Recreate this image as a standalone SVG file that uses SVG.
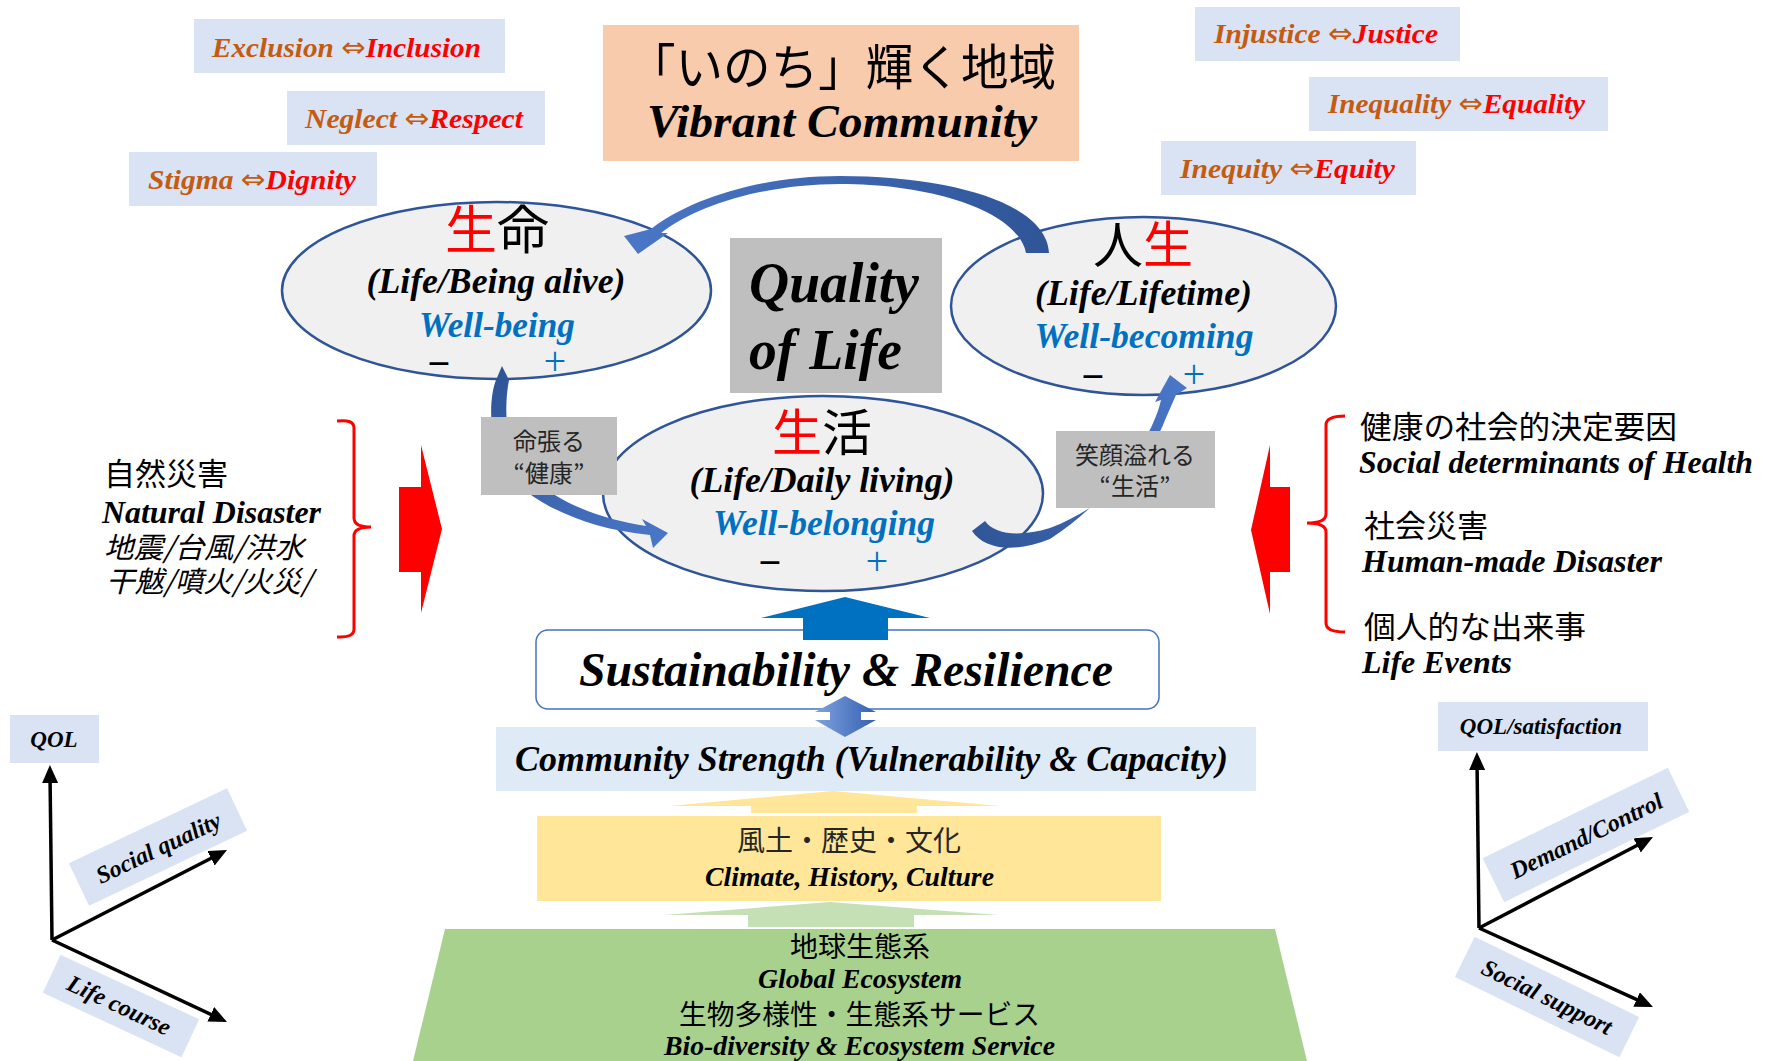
<svg xmlns="http://www.w3.org/2000/svg" width="1774" height="1061" viewBox="0 0 1774 1061">
<style>
.en{font-family:"Liberation Serif","DejaVu Serif",serif;font-weight:bold;font-style:italic}
.jp{font-family:"Noto Sans CJK JP","Noto Sans",sans-serif}
.neg{fill:#c55a11}
.pos{fill:#ff0000}
.arr{font-family:"DejaVu Sans",sans-serif;font-style:normal;font-weight:normal;fill:#c55a11}
.lbl{fill:#dae3f3}
.ell{fill:#f0f0f0;stroke:#2f5597;stroke-width:2.5}
.gray{fill:#bfbfbf}
.blue{fill:#0070c0}
.axis{stroke:#000;stroke-width:3.5;fill:none;marker-end:url(#ah)}
.brk{stroke:#ff0000;stroke-width:3;fill:none}
.minus{font-family:"Noto Sans","DejaVu Sans",sans-serif;font-size:40px;fill:#000;text-anchor:middle}
.plus{font-family:"Noto Sans","DejaVu Sans",sans-serif;font-size:40px;font-weight:300;fill:#0070c0;text-anchor:middle}
</style>
<defs>
<marker id="ah" markerUnits="userSpaceOnUse" markerWidth="20" markerHeight="18" refX="10" refY="8" orient="auto">
<path d="M0,0 L18,8 L0,16 z" fill="#000"/>
</marker>
<linearGradient id="arcg" gradientUnits="userSpaceOnUse" x1="620" y1="0" x2="1050" y2="0">
<stop offset="0" stop-color="#4a77c8"/><stop offset="1" stop-color="#2f5597"/>
</linearGradient>
<linearGradient id="arcr" gradientUnits="userSpaceOnUse" x1="970" y1="540" x2="1185" y2="380">
<stop offset="0" stop-color="#2f5597"/><stop offset="1" stop-color="#4a77c8"/>
</linearGradient>
<linearGradient id="arcl" gradientUnits="userSpaceOnUse" x1="500" y1="370" x2="668" y2="540">
<stop offset="0" stop-color="#2f5597"/><stop offset="1" stop-color="#4a77c8"/>
</linearGradient>
<linearGradient id="dbl" x1="0" y1="0" x2="1" y2="0">
<stop offset="0" stop-color="#7fa3e0"/><stop offset="1" stop-color="#3560b0"/>
</linearGradient>
</defs>

<!-- top-left value boxes -->
<g id="exclusion">
<rect class="lbl" x="194" y="19" width="311" height="54"/>
<text class="en" x="212" y="57" font-size="28" textLength="269" lengthAdjust="spacingAndGlyphs"><tspan class="neg">Exclusion </tspan><tspan class="arr">⇔</tspan><tspan class="pos">Inclusion</tspan></text>
</g>
<g id="neglect">
<rect class="lbl" x="287" y="91" width="258" height="54"/>
<text class="en" x="305" y="128" font-size="28" textLength="218" lengthAdjust="spacingAndGlyphs"><tspan class="neg">Neglect </tspan><tspan class="arr">⇔</tspan><tspan class="pos">Respect</tspan></text>
</g>
<g id="stigma">
<rect class="lbl" x="129" y="152" width="248" height="54"/>
<text class="en" x="148" y="189" font-size="28" textLength="208" lengthAdjust="spacingAndGlyphs"><tspan class="neg">Stigma </tspan><tspan class="arr">⇔</tspan><tspan class="pos">Dignity</tspan></text>
</g>

<!-- top-right value boxes -->
<g id="injustice">
<rect class="lbl" x="1195" y="7" width="265" height="54"/>
<text class="en" x="1214" y="43" font-size="28" textLength="224" lengthAdjust="spacingAndGlyphs"><tspan class="neg">Injustice </tspan><tspan class="arr">⇔</tspan><tspan class="pos">Justice</tspan></text>
</g>
<g id="inequality">
<rect class="lbl" x="1309" y="77" width="299" height="54"/>
<text class="en" x="1328" y="113" font-size="28" textLength="257" lengthAdjust="spacingAndGlyphs"><tspan class="neg">Inequality </tspan><tspan class="arr">⇔</tspan><tspan class="pos">Equality</tspan></text>
</g>
<g id="inequity">
<rect class="lbl" x="1161" y="141" width="255" height="54"/>
<text class="en" x="1180" y="178" font-size="28" textLength="215" lengthAdjust="spacingAndGlyphs"><tspan class="neg">Inequity </tspan><tspan class="arr">⇔</tspan><tspan class="pos">Equity</tspan></text>
</g>

<!-- title -->
<g id="vibrant">
<rect x="603" y="25" width="476" height="136" fill="#f8cbad"/>
<text class="jp" x="628" y="85" font-size="49" textLength="428" lengthAdjust="spacingAndGlyphs" fill="#000">「いのち」輝く地域</text>
<text class="en" x="647" y="137" font-size="46" textLength="390" lengthAdjust="spacingAndGlyphs" fill="#000">Vibrant Community</text>
</g>

<!-- ellipses -->
<g id="seimei">
<ellipse class="ell" cx="496.5" cy="290.5" rx="214.5" ry="88.5"/>
<text class="jp" x="497" y="249" font-size="52" text-anchor="middle"><tspan class="pos">生</tspan><tspan fill="#000">命</tspan></text>
<text class="en" x="496" y="293" font-size="36" text-anchor="middle" textLength="259" lengthAdjust="spacingAndGlyphs" fill="#000">(Life/Being alive)</text>
<text class="en blue" x="497" y="337" font-size="35" text-anchor="middle" textLength="156" lengthAdjust="spacingAndGlyphs">Well-being</text>
<text class="minus" x="439" y="378">−</text>
<text class="plus" x="555" y="376">+</text>
</g>

<g id="jinsei">
<ellipse class="ell" cx="1143.5" cy="306" rx="192.5" ry="89"/>
<text class="jp" x="1143" y="263" font-size="50" text-anchor="middle"><tspan fill="#000">人</tspan><tspan class="pos">生</tspan></text>
<text class="en" x="1143.5" y="305" font-size="36" text-anchor="middle" textLength="217" lengthAdjust="spacingAndGlyphs" fill="#000">(Life/Lifetime)</text>
<text class="en blue" x="1144" y="348" font-size="35" text-anchor="middle" textLength="219" lengthAdjust="spacingAndGlyphs">Well-becoming</text>
<text class="minus" x="1093" y="391">−</text>
<text class="plus" x="1194" y="389">+</text>
</g>

<g id="seikatsu">
<ellipse class="ell" cx="823" cy="493.5" rx="220" ry="97.5"/>
<text class="jp" x="822" y="451" font-size="50" text-anchor="middle"><tspan class="pos">生</tspan><tspan fill="#000">活</tspan></text>
<text class="en" x="822" y="492" font-size="36" text-anchor="middle" textLength="265" lengthAdjust="spacingAndGlyphs" fill="#000">(Life/Daily living)</text>
<text class="en blue" x="824" y="535" font-size="35" text-anchor="middle" textLength="222" lengthAdjust="spacingAndGlyphs">Well-belonging</text>
<text class="minus" x="770" y="577">−</text>
<text class="plus" x="877" y="576">+</text>
</g>

<g id="qol-center">
<rect class="gray" x="730" y="238" width="212" height="155"/>
<text class="en" x="749" y="302" font-size="56" textLength="170" lengthAdjust="spacingAndGlyphs" fill="#000">Quality</text>
<text class="en" x="749" y="369" font-size="56" textLength="153" lengthAdjust="spacingAndGlyphs" fill="#000">of Life</text>
</g>

<!-- connectors -->
<g id="connectors">
<path d="M1049,253 C1047,203 950,176 840,176 C760,176 690,199 651,229 L624,236 L638,254 L668,233 L661,233 C700,203 770,184 840,184 C935,184 1018,212 1026,253 Z" fill="url(#arcg)"/>
<path d="M502,366 L509,380 C505,400 505,430 512,450 C530,488 580,516 646,526 L642,519 L668,533 L653,548 L650,535 C578,528 522,498 501,465 C490,440 488,400 496,380 Z" fill="url(#arcl)"/>
<path d="M972,531 L985,521 C995,535 1020,537 1050,528 C1110,505 1150,460 1165,420 L1176,395 L1187,388 L1170,375 L1155,402 L1161,400 C1152,440 1110,500 1050,539 C1015,553 985,550 972,531 Z" fill="url(#arcr)"/>
<polygon points="399,487 421,487 421,445 442,529 421,613 421,572 399,572" fill="#ff0000"/>
<polygon points="1290,487 1270,487 1270,445 1251,530 1270,614 1270,572 1290,572" fill="#ff0000"/>
<path class="axis" d="M52,940 L50,773"/>
<path class="axis" d="M52,940 L219.9,853.7"/>
<path class="axis" d="M52,940 L219.8,1018.6"/>
<path class="axis" d="M1479,928 L1477,760"/>
<path class="axis" d="M1479,928 L1645.9,840.7"/>
<path class="axis" d="M1479,928 L1645.7,1003.7"/>
</g>

<g id="health-box">
<rect class="gray" x="481" y="417" width="136" height="78"/>
<text class="jp" x="549" y="450" font-size="24" text-anchor="middle" fill="#262626">命張る</text>
<text class="jp" x="549" y="482" font-size="24" text-anchor="middle" fill="#262626">“健康”</text>
</g>
<g id="living-box">
<rect class="gray" x="1056" y="431" width="159" height="77"/>
<text class="jp" x="1135" y="464" font-size="24" text-anchor="middle" fill="#262626">笑顔溢れる</text>
<text class="jp" x="1135" y="495" font-size="24" text-anchor="middle" fill="#262626">“生活”</text>
</g>

<!-- left disasters -->
<g id="natural-disaster">
<text class="jp" x="104" y="485" font-size="31" fill="#000">自然災害</text>
<text class="en" x="102" y="523" font-size="31" textLength="219" lengthAdjust="spacingAndGlyphs" fill="#000">Natural Disaster</text>
<text class="jp" x="104" y="558" font-size="29" font-style="italic" textLength="200" lengthAdjust="spacingAndGlyphs" fill="#000">地震/台風/洪水</text>
<text class="jp" x="106" y="592" font-size="29" font-style="italic" textLength="206" lengthAdjust="spacingAndGlyphs" fill="#000">干魃/噴火/火災/</text>
<path class="brk" d="M337,421 Q354,419 354,428 L354,518 Q354,527 371,527 Q354,527 354,536 L354,629 Q354,638 337,637"/>
</g>

<!-- right determinants -->
<g id="social-determinants">
<text class="jp" x="1360" y="438" font-size="31" textLength="317" lengthAdjust="spacingAndGlyphs" fill="#000">健康の社会的決定要因</text>
<text class="en" x="1359" y="473" font-size="31" textLength="394" lengthAdjust="spacingAndGlyphs" fill="#000">Social determinants of Health</text>
<text class="jp" x="1364" y="537" font-size="31" fill="#000">社会災害</text>
<text class="en" x="1362" y="572" font-size="31" textLength="300" lengthAdjust="spacingAndGlyphs" fill="#000">Human-made Disaster</text>
<text class="jp" x="1364" y="638" font-size="31" textLength="222" lengthAdjust="spacingAndGlyphs" fill="#000">個人的な出来事</text>
<text class="en" x="1362" y="673" font-size="31" textLength="150" lengthAdjust="spacingAndGlyphs" fill="#000">Life Events</text>
<path class="brk" d="M1345,416 Q1326,416 1326,425 L1326,514 Q1326,523 1307,523 Q1326,523 1326,532 L1326,623 Q1326,632 1345,632"/>
</g>

<!-- central stack -->
<g id="sustainability">
<rect x="536" y="630" width="623" height="79" rx="12" ry="12" fill="#fff" stroke="#4472c4" stroke-width="1.5"/>
<text class="en" x="579" y="686" font-size="48" textLength="534" lengthAdjust="spacingAndGlyphs" fill="#000">Sustainability &amp; Resilience</text>
</g>
<g id="up-arrow">
<polygon points="845,597 930,618 888,618 888,640 803,640 803,618 761,618" fill="#0070c0"/>
</g>
<g id="community">
<rect x="496" y="727" width="760" height="64" fill="#deebf7"/>
<text class="en" x="515" y="771" font-size="36" textLength="713" lengthAdjust="spacingAndGlyphs" fill="#000">Community Strength (Vulnerability &amp; Capacity)</text>
</g>
<g id="double-arrow">
<polygon points="845,696 876,712 861,712 861,720 876,720 845,737 815,720 830,720 830,712 815,712" fill="url(#dbl)"/>
</g>
<g id="yellow-arrow">
<polygon points="833,791 1000,806 917,806 917,813 751,813 751,806 669,806" fill="#ffe699"/>
</g>
<g id="culture">
<rect x="537" y="816" width="624" height="85" fill="#ffe699"/>
<text class="jp" x="849" y="851" font-size="28" text-anchor="middle" fill="#262626">風土・歴史・文化</text>
<text class="en" x="705" y="886" font-size="28" textLength="289" lengthAdjust="spacingAndGlyphs" fill="#000">Climate, History, Culture</text>
</g>
<g id="green-arrow">
<polygon points="830,902 998,915 914,915 914,927 748,927 748,915 664,915" fill="#c5e0b4"/>
</g>
<g id="ecosystem">
<polygon points="445,929 1275,929 1307,1061 413,1061" fill="#a9d18e"/>
<text class="jp" x="860" y="957" font-size="28" text-anchor="middle" fill="#000">地球生態系</text>
<text class="en" x="758" y="988" font-size="28" textLength="204" lengthAdjust="spacingAndGlyphs" fill="#000">Global Ecosystem</text>
<text class="jp" x="679" y="1025" font-size="28" textLength="361" lengthAdjust="spacingAndGlyphs" fill="#000">生物多様性・生態系サービス</text>
<text class="en" x="664" y="1055" font-size="28" textLength="391" lengthAdjust="spacingAndGlyphs" fill="#000">Bio-diversity &amp; Ecosystem Service</text>
</g>

<!-- left axes labels -->
<g id="qol-left">
<rect class="lbl" x="10" y="715" width="89" height="48"/>
<text class="en" x="54" y="747" font-size="23" text-anchor="middle" fill="#000">QOL</text>
</g>
<g id="social-quality" transform="translate(158,847) rotate(-25.4)">
<rect class="lbl" x="-87.5" y="-23.5" width="175" height="47"/>
<text class="en" x="0" y="9" font-size="24" text-anchor="middle" fill="#000">Social quality</text>
</g>
<g id="life-course" transform="translate(121,1006) rotate(25)">
<rect class="lbl" x="-76.5" y="-21" width="153" height="42"/>
<text class="en" x="-2" y="8" font-size="24" text-anchor="middle" fill="#000">Life course</text>
</g>

<!-- right axes labels -->
<g id="qol-right">
<rect class="lbl" x="1438" y="702" width="210" height="49"/>
<text class="en" x="1541" y="734" font-size="23" text-anchor="middle" fill="#000">QOL/satisfaction</text>
</g>
<g id="demand-control" transform="translate(1586,835) rotate(-26)">
<rect class="lbl" x="-103" y="-24.5" width="206" height="49"/>
<text class="en" x="0" y="9" font-size="24" text-anchor="middle" fill="#000">Demand/Control</text>
</g>
<g id="social-support" transform="translate(1547,997) rotate(26)">
<rect class="lbl" x="-91.5" y="-22.5" width="183" height="45"/>
<text class="en" x="0" y="8" font-size="24" text-anchor="middle" fill="#000">Social support</text>
</g>
</svg>
